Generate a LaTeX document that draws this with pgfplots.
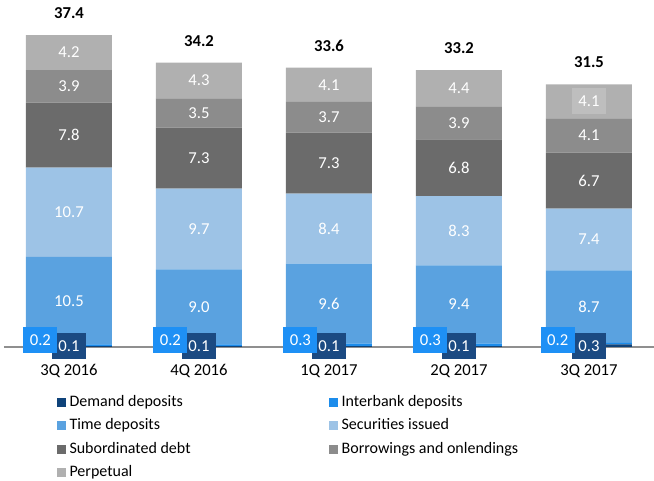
\documentclass[border=0pt]{standalone}
\usepackage{pgfplots}
\pgfplotsset{compat=1.18}
\usepackage{fontspec}
\setmainfont{Carlito}
\definecolor{cDem}{HTML}{0F437A}
\definecolor{cDemBox}{HTML}{1B4A82}
\definecolor{cInt}{HTML}{1C8CEB}
\definecolor{cIntBox}{HTML}{1E90F5}
\definecolor{cTime}{HTML}{5AA2E0}
\definecolor{cSec}{HTML}{9DC3E6}
\definecolor{cSub}{HTML}{6B6B6B}
\definecolor{cBor}{HTML}{8C8C8C}
\definecolor{cPer}{HTML}{B0B0B0}
\definecolor{cPerBox}{HTML}{BEBEBE}
\definecolor{cAxis}{HTML}{8F8F8F}

\pgfplotstableread{
x dem int time sec sub bor per
0 0.1 0.2 10.5 10.7 7.8 3.9 4.2
1 0.1 0.2 9.0 9.7 7.3 3.5 4.3
2 0.1 0.3 9.6 8.4 7.3 3.7 4.1
3 0.1 0.3 9.4 8.3 6.8 3.9 4.4
4 0.3 0.2 8.7 7.4 6.7 4.1 4.1
}\datatable

% segment label positions (centre of each segment)
\pgfplotstableread{
x y label
0 5.55 10.5
0 16.15 10.7
0 25.4 7.8
0 31.25 3.9
0 35.3 4.2
1 4.8 9.0
1 14.15 9.7
1 22.65 7.3
1 28.05 3.5
1 31.95 4.3
2 5.2 9.6
2 14.2 8.4
2 22.05 7.3
2 27.55 3.7
2 31.45 4.1
3 5.1 9.4
3 13.95 8.3
3 21.5 6.8
3 26.85 3.9
3 31.0 4.4
4 4.85 8.7
4 12.9 7.4
4 19.95 6.7
4 25.35 4.1
}\seglabels

\pgfplotstableread{
x y label
0 37.4 37.4
1 34.1 34.2
2 33.5 33.6
3 33.2 33.2
4 31.5 31.5
}\totals

\pgfplotstableread{
x y label
0 0.12 0.1
1 0.12 0.1
2 0.12 0.1
3 0.12 0.1
4 0.12 0.3
}\demlabels

\pgfplotstableread{
x y label
-0.22 0.84 0.2
0.78 0.84 0.2
1.78 0.84 0.3
2.78 0.84 0.3
3.76 0.84 0.2
}\intlabels

\begin{document}
\begin{tikzpicture}
\path[use as bounding box] (-3pt,-100.5pt) rectangle (487.5pt,260.25pt);
\begin{axis}[
  at={(0,0)}, anchor=south west,
  scale only axis, width=487.5pt, height=250.2pt,
  xmin=-0.5, xmax=4.5, ymin=0, ymax=40,
  ybar stacked, bar width=64.5pt,
  axis x line*=bottom, axis y line=none,
  x axis line style={cAxis, line width=0.8pt},
  xtick={0,1,2,3,4},
  xticklabels={3Q 2016,4Q 2016,1Q 2017,2Q 2017,3Q 2017},
  major tick length=0pt,
  xticklabel style={font=\fontsize{12.5}{14}\selectfont, yshift=-9.5pt},
  clip=false,
  legend columns=2,
  legend cell align=left,
  legend image code/.code={\fill[#1] (0pt,-3.4pt) rectangle (6.8pt,3.4pt);},
  legend style={
    at={(0.0815,-0.144)}, anchor=north west,
    draw=none, fill=none, inner sep=0pt,
    font=\fontsize{12}{14}\selectfont,
    nodes={inner sep=0pt, text height=8.3pt, text depth=2.5pt},
    column sep=2.4pt, row sep=6.7pt,
    /tikz/column 2/.append style={column sep=104pt},
  },
]
\addplot[fill=cDem, draw=none] table[x=x, y=dem] {\datatable};
\addlegendentry{Demand deposits}
\addplot[fill=cInt, draw=none] table[x=x, y=int] {\datatable};
\addlegendentry{Interbank deposits}
\addplot[fill=cTime, draw=none] table[x=x, y=time] {\datatable};
\addlegendentry{Time deposits}
\addplot[fill=cSec, draw=none] table[x=x, y=sec] {\datatable};
\addlegendentry{Securities issued}
\addplot[fill=cSub, draw=none] table[x=x, y=sub] {\datatable};
\addlegendentry{Subordinated debt}
\addplot[fill=cBor, draw=none] table[x=x, y=bor] {\datatable};
\addlegendentry{Borrowings and onlendings}
\addplot[fill=cPer, draw=none] table[x=x, y=per] {\datatable};
\addlegendentry{Perpetual}
\end{axis}

\begin{axis}[
  at={(0,0)}, anchor=south west,
  scale only axis, width=487.5pt, height=250.2pt,
  xmin=-0.5, xmax=4.5, ymin=0, ymax=40,
  hide axis, clip=false,
]
\addplot[draw=none, mark=none, nodes near coords={\pgfplotspointmeta},
  point meta=explicit symbolic,
  every node near coord/.append style={anchor=center, text=white, inner sep=0pt,
    font=\fontsize{12.5}{14}\selectfont}]
  table[x=x, y=y, meta=label] {\seglabels};
% perpetual label of 3Q 2017 with its light box
\addplot[draw=none, mark=none, nodes near coords={\pgfplotspointmeta},
  point meta=explicit symbolic,
  every node near coord/.append style={anchor=center, text=white, inner sep=0pt,
    fill=cPerBox, minimum width=25.5pt, minimum height=19.5pt,
    font=\fontsize{12.5}{14}\selectfont}]
  table[x=x, y=y, meta=label] {
x y label
4 29.45 4.1
};
\addplot[draw=none, mark=none, nodes near coords={\pgfplotspointmeta},
  point meta=explicit symbolic,
  every node near coord/.append style={anchor=center, text=black, yshift=16.5pt,
    font=\fontsize{12.5}{14}\selectfont\bfseries}]
  table[x=x, y=y, meta=label] {\totals};
\addplot[draw=none, mark=none, nodes near coords={\pgfplotspointmeta},
  point meta=explicit symbolic,
  every node near coord/.append style={anchor=center, text=white, inner sep=0pt,
    fill=cDemBox, minimum width=25.5pt, minimum height=19.5pt,
    font=\fontsize{12.5}{14}\selectfont}]
  table[x=x, y=y, meta=label] {\demlabels};
\addplot[draw=none, mark=none, nodes near coords={\pgfplotspointmeta},
  point meta=explicit symbolic,
  every node near coord/.append style={anchor=center, text=white, inner sep=0pt,
    fill=cIntBox, minimum width=25.5pt, minimum height=19.5pt,
    font=\fontsize{12.5}{14}\selectfont}]
  table[x=x, y=y, meta=label] {\intlabels};
\end{axis}
\end{tikzpicture}
\end{document}
